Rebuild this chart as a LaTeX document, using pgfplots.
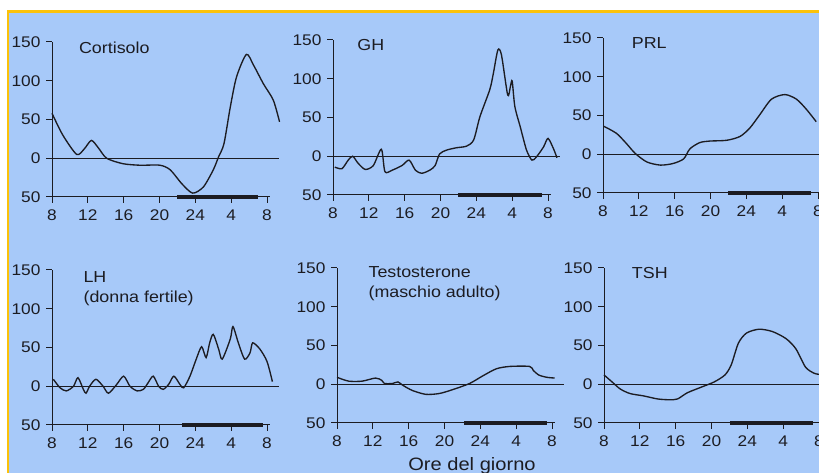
\documentclass[border=0pt]{standalone}
\usepackage{fontspec}
\setmainfont{Liberation Sans}[FakeStretch=1.12]
\usepackage{pgfplots}
\pgfplotsset{compat=1.18}
\definecolor{bgblue}{RGB}{167,201,249}
\definecolor{frame}{RGB}{252,194,10}
\definecolor{ink}{RGB}{28,28,34}

\newcommand{\lab}{\fontsize{15.5}{15.5}\selectfont}
\newcommand{\ttl}{\fontsize{16}{16}\selectfont}

\pgfplotsset{
  panel/.style={
    scale only axis, width=217.7bp, height=155bp,
    xmin=8, xmax=32.3, ymin=-50, ymax=150,
    axis x line=bottom, axis y line=left,
    axis line style={-, ink, line width=1bp},
    clip=false,
    xtick={8,12,16,20,24,28,32}, xticklabels={8,12,16,20,24,4,8},
    ytick={-50,0,50,100,150}, yticklabels={50,0,50,100,150},
    tick style={ink, line width=1bp},
    major tick length=6bp,
    tick align=outside,
    /pgf/number format/assume math mode=true,
    tick label style={font=\lab, text=ink},
    xticklabel style={yshift=-3.5bp},
    yticklabel style={xshift=-2bp},
    every axis plot/.append style={ink, line width=1.35bp},
  },
  curve/.style={smooth, tension=0.45, no markers},
  zero/.style={line width=0.9bp, no markers},
  sleep/.style={line width=3.8bp, no markers},
}

\begin{document}
\begin{tikzpicture}
\path[use as bounding box] (0,0) rectangle (819bp,473bp);
\fill[white] (0,0) rectangle (819bp,473bp);
\fill[bgblue] (8bp,0) rectangle (819bp,461.5bp);
\draw[frame, line width=2.8bp] (8bp,0) -- (8bp,461.5bp) -- (819bp,461.5bp);

% Cortisolo
\begin{axis}[panel, at={(52bp,276bp)}, anchor=south west]
\addplot[zero] coordinates {(8,0) (33.3,0)};
\addplot[sleep] coordinates {(22,-49.5) (31,-49.5)};
\addplot[curve] coordinates {
(8,58) (9.2,30) (10.75,5) (11.6,12) (12.4,23) (13.2,13) (14.1,0) (15.9,-7)
(17.8,-9) (20.05,-9) (21.2,-15) (22.5,-33) (23.7,-45) (24.9,-37) (26.0,-15)
(26.6,2) (27.2,19) (27.9,66) (28.6,105) (29.7,134) (30.5,120) (31.6,96)
(32.7,75) (33.4,47)};
\node[anchor=base west, inner sep=0pt, font=\ttl, text=ink] at (axis cs:11,135) {Cortisolo};
\end{axis}

% GH
\begin{axis}[panel, at={(333bp,278bp)}, anchor=south west]
\addplot[zero] coordinates {(8,0) (33.3,0)};
\addplot[sleep] coordinates {(22,-49.5) (31.3,-49.5)};
\addplot[curve] coordinates {
(8.2,-14) (9.0,-16) (9.7,-5) (10.2,0) (10.8,-9) (11.6,-17) (12.5,-12)
(13.4,9) (13.8,-20) (14.6,-18) (15.7,-12) (16.5,-5) (17.2,-18) (17.9,-22)
(18.8,-18) (19.4,-12) (19.9,3) (20.7,8) (21.8,11) (22.9,13) (23.7,21)
(24.4,51) (25.5,86) (25.9,107) (26.4,137) (26.8,131) (27.5,79) (27.8,90)
(28.0,97) (28.3,64) (28.9,38) (29.6,8) (30.2,-5) (30.7,-1) (31.5,12)
(32.0,23) (32.6,10) (33.0,-2)};
\node[anchor=base west, inner sep=0pt, font=\ttl, text=ink] at (axis cs:10.7,136) {GH};
\end{axis}

% PRL
\begin{axis}[panel, at={(603bp,280bp)}, anchor=south west]
\addplot[zero] coordinates {(8,0) (33.3,0)};
\addplot[sleep] coordinates {(22,-49.5) (31.2,-49.5)};
\addplot[curve] coordinates {
(8.1,36) (9.5,27) (10.6,14) (11.6,1) (12.9,-10) (14.4,-14) (15.8,-12)
(17.0,-6) (17.7,7) (18.8,15) (19.9,17) (21.8,18) (23.3,23) (24.4,34)
(25.5,51) (26.8,71) (28.3,77) (29.6,71) (30.7,58) (31.8,42)};
\node[anchor=base west, inner sep=0pt, font=\ttl, text=ink] at (axis cs:11.2,136) {PRL};
\end{axis}

% LH
\begin{axis}[panel, at={(52bp,48bp)}, anchor=south west]
\addplot[zero] coordinates {(8,0) (33.3,0)};
\addplot[sleep] coordinates {(22.5,-49.5) (31.6,-49.5)};
\addplot[curve] coordinates {
(8.15,9) (8.9,-2) (9.6,-6) (10.4,0) (10.9,11) (11.5,-4) (11.8,-9) (12.2,0)
(12.9,9) (13.7,0) (14.3,-9) (15.2,2) (16.0,13) (16.7,0) (17.5,-6) (18.2,-4)
(18.7,4) (19.3,13) (19.9,0) (20.4,-4) (21.0,2) (21.6,13) (22.3,2) (22.7,-2)
(23.4,13) (24.1,35) (24.7,51) (25.2,37) (25.6,56) (26.0,67) (26.6,48)
(27.0,35) (27.9,61) (28.2,77) (28.8,56) (29.5,35) (30.1,43) (30.4,56)
(31.2,48) (32.0,32) (32.6,6)};
\node[anchor=base west, inner sep=0pt, font=\ttl, text=ink] at (axis cs:11.5,133.5) {LH};
\node[anchor=base west, inner sep=0pt, font=\ttl, text=ink] at (axis cs:11.5,108) {(donna fertile)};
\end{axis}

% Testosterone
\begin{axis}[panel, at={(337bp,50bp)}, anchor=south west]
\addplot[zero] coordinates {(8,0) (33.3,0)};
\addplot[sleep] coordinates {(22.2,-49.5) (31.4,-49.5)};
\addplot[curve] coordinates {
(8.0,9) (9.3,4) (10.8,4) (12.3,8) (13.0,5) (13.3,1) (14.2,1) (14.8,3)
(15.3,-1) (16.4,-8) (17.9,-13) (19.4,-12) (20.9,-7) (22.8,1) (24.3,11)
(25.8,20) (27.3,23) (29.5,23) (29.9,18) (30.5,12) (31.4,9) (32.3,8)};
\node[anchor=base west, inner sep=0pt, font=\ttl, text=ink] at (axis cs:11.5,138) {Testosterone};
\node[anchor=base west, inner sep=0pt, font=\ttl, text=ink] at (axis cs:11.5,112) {(maschio adulto)};
\end{axis}

% TSH
\begin{axis}[panel, at={(604bp,50bp)}, anchor=south west]
\addplot[zero] coordinates {(8,0) (33.3,0)};
\addplot[sleep] coordinates {(22.1,-49.5) (31.3,-49.5)};
\addplot[curve] coordinates {
(8.0,12) (8.9,3) (9.8,-6) (10.9,-12) (12.4,-15) (14.0,-19) (15.3,-20)
(16.2,-19) (17.3,-11) (18.8,-4) (20.3,3) (21.5,12) (22.2,25) (23.0,53)
(23.9,66) (25.3,71) (26.8,68) (28.3,59) (29.4,46) (30.5,22) (31.5,14)
(32.3,12.5)};
\node[anchor=base west, inner sep=0pt, font=\ttl, text=ink] at (axis cs:11.1,136) {TSH};
\end{axis}

\node[anchor=base, inner sep=0pt, font=\fontsize{18}{18}\selectfont, text=ink] at (472bp,3bp) {Ore del giorno};
\end{tikzpicture}
\end{document}
